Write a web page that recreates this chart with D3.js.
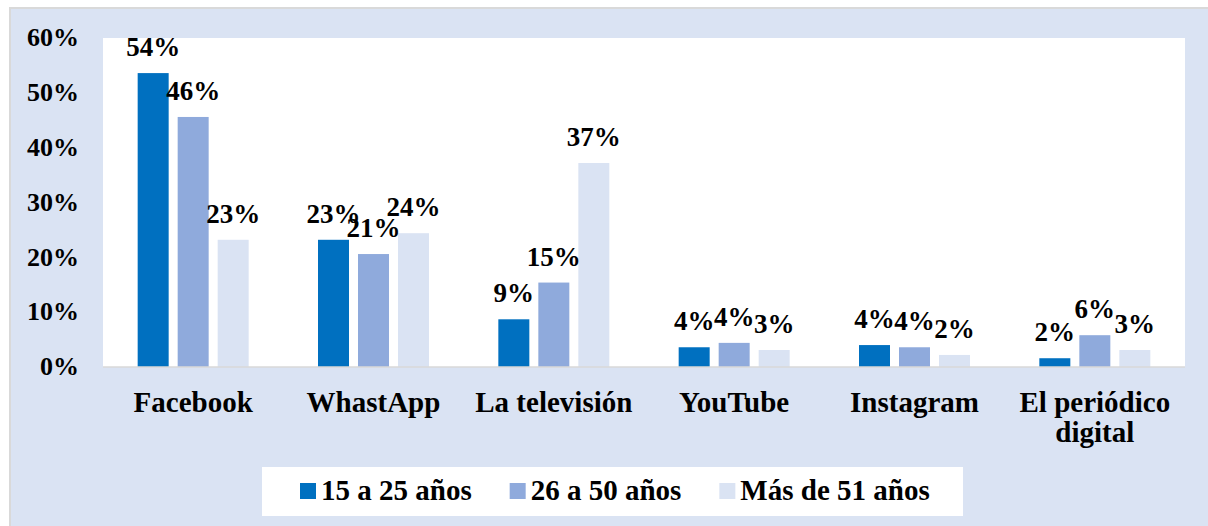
<!DOCTYPE html>
<html>
<head>
<meta charset="utf-8">
<script src="https://cdn.jsdelivr.net/npm/d3@7"></script>
<style>
  html, body { margin: 0; padding: 0; background: #ffffff; }
  svg { display: block; }
</style>
</head>
<body>
<svg id="chart" width="1208" height="526"></svg>
<script>
const categories = ["Facebook", "WhastApp", "La televisión", "YouTube", "Instagram", "El periódico digital"];
const seriesNames = ["15 a 25 años", "26 a 50 años", "Más de 51 años"];
const values15a25 = [53.6, 23.2, 8.7, 3.6, 4.0, 1.6];
const values26a50 = [45.6, 20.6, 15.4, 4.4, 3.6, 5.8];
const valuesMas51 = [23.2, 24.4, 37.2, 3.1, 2.2, 3.1];
const yTicks = [0, 10, 20, 30, 40, 50, 60];

const seriesValues = [values15a25, values26a50, valuesMas51];
const colors = ["#0070c0", "#8faadc", "#dae3f3"];
const FONT = '"Liberation Serif"';

const svg = d3.select("#chart");

function styleText(sel, size) {
  return sel.style("font-family", FONT)
    .style("font-weight", "bold")
    .style("font-size", size + "px")
    .style("fill", "#000000");
}

// chart area background
svg.append("rect")
  .attr("x", 10).attr("y", 8)
  .attr("width", 1210).attr("height", 530)
  .attr("fill", "#dae3f3")
  .attr("stroke", "#d9d9d9").attr("stroke-width", 2);

const plot = { left: 103, right: 1185, top: 38, bottom: 367 };

// plot area
svg.append("rect")
  .attr("x", plot.left).attr("y", plot.top)
  .attr("width", plot.right - plot.left).attr("height", plot.bottom - plot.top)
  .attr("fill", "#ffffff");

const y = d3.scaleLinear().domain([0, 60]).range([plot.bottom, plot.top]);

const x0 = d3.scaleBand()
  .domain(categories)
  .range([plot.left, plot.right])
  .paddingInner(0.3845)
  .paddingOuter(0.3845 / 2);

const x1 = d3.scaleBand()
  .domain(d3.range(seriesNames.length))
  .range([0, x0.bandwidth()])
  .paddingInner(0.225)
  .paddingOuter(0);

// bars
const groups = svg.append("g").selectAll("g")
  .data(categories)
  .join("g")
  .attr("transform", c => `translate(${x0(c)},0)`);

groups.selectAll("rect")
  .data((c, i) => seriesValues.map((s, k) => ({ k, v: s[i] })))
  .join("rect")
  .attr("x", d => x1(d.k))
  .attr("y", d => y(d.v))
  .attr("width", x1.bandwidth())
  .attr("height", d => y(0) - y(d.v))
  .attr("fill", d => colors[d.k]);

// baseline
svg.append("line")
  .attr("x1", plot.left).attr("x2", plot.right)
  .attr("y1", y(0)).attr("y2", y(0))
  .attr("stroke", "#d9d9d9").attr("stroke-width", 1.5);

// value labels
styleText(groups.selectAll("text.val")
  .data((c, i) => seriesValues.map((s, k) => ({ k, v: s[i] })))
  .join("text")
  .attr("class", "val")
  .attr("x", d => x1(d.k) + x1.bandwidth() / 2)
  .attr("y", d => y(d.v) - 17)
  .attr("text-anchor", "middle")
  .text(d => Math.round(d.v) + "%"), 27);

// y axis
const yAxis = d3.axisLeft(y)
  .tickValues(yTicks)
  .tickSize(0)
  .tickPadding(24)
  .tickFormat(d => d + "%");

const gy = svg.append("g")
  .attr("transform", `translate(${plot.left},0)`)
  .call(yAxis);
gy.select(".domain").remove();
gy.attr("font-family", null).attr("font-size", null);
styleText(gy.selectAll("text").attr("dy", "0.3em"), 26);

// category labels (wrapped)
const maxW = x0.step();
const catG = svg.append("g");
categories.forEach(c => {
  const cx = x0(c) + x0.bandwidth() / 2;
  const t = styleText(catG.append("text")
    .attr("x", cx)
    .attr("y", 412)
    .attr("text-anchor", "middle"), 29);
  const words = c.split(" ");
  let line = [];
  let tspan = t.append("tspan").attr("x", cx).attr("dy", 0);
  words.forEach(w => {
    line.push(w);
    tspan.text(line.join(" "));
    if (tspan.node().getComputedTextLength() > maxW && line.length > 1) {
      line.pop();
      tspan.text(line.join(" "));
      line = [w];
      tspan = t.append("tspan").attr("x", cx).attr("dy", 30).text(w);
    }
  });
});

// legend
const legend = svg.append("g");
legend.append("rect")
  .attr("x", 262).attr("y", 467)
  .attr("width", 701).attr("height", 49)
  .attr("fill", "#ffffff");

let lx = 300;
seriesNames.forEach((name, k) => {
  legend.append("rect")
    .attr("x", lx).attr("y", 483)
    .attr("width", 16).attr("height", 16)
    .attr("fill", colors[k]);
  const t = styleText(legend.append("text")
    .attr("x", lx + 21).attr("y", 500)
    .text(name), 29);
  lx += 21 + t.node().getComputedTextLength() + 38;
});
</script>
</body>
</html>
